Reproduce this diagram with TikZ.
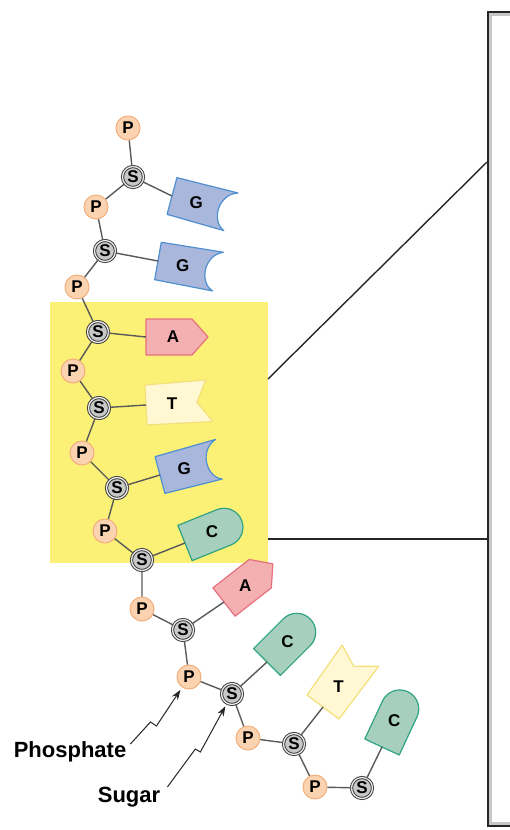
\documentclass[tikz,border=0pt]{standalone}
\usepackage{fontspec}
\setmainfont{Liberation Sans}
\usetikzlibrary{arrows.meta}

\definecolor{highlight}{HTML}{FBF176}
\definecolor{phosfill}{HTML}{FBD3B0}
\definecolor{phosline}{HTML}{F2AE7C}
\definecolor{afill}{HTML}{F4B0B0}
\definecolor{aline}{HTML}{E6707E}
\definecolor{tfill}{HTML}{FFF8D2}
\definecolor{tline}{HTML}{F3E07C}
\definecolor{gfill}{HTML}{A9B7DD}
\definecolor{gline}{HTML}{4F8FD0}
\definecolor{cfill}{HTML}{A6CFBE}
\definecolor{cline}{HTML}{2FA383}

\tikzset{
  phosphate/.style = {circle, draw=phosline, fill=phosfill, line width=1pt,
                      minimum size=24pt, inner sep=0pt,
                      font=\fontsize{17}{17}\selectfont\bfseries},
  sugar/.style     = {circle, draw=black!80, double=black!8, double distance=1.3pt,
                      line width=0.9pt, fill=black!22, minimum size=21pt, inner sep=0pt,
                      font=\fontsize{17}{17}\selectfont\bfseries},
  bond/.style      = {draw=black!65, line width=1.4pt},
  baselbl/.style   = {inner sep=0pt, font=\fontsize{17}{17}\selectfont\bfseries},
  basebox/.style   = {line width=1.2pt, line join=round},
  pointer/.style   = {-{Stealth[length=10pt,width=7pt]}, line width=1pt, black!85,
                      shorten >=3pt},
  tag/.style       = {inner sep=0pt, font=\fontsize{22}{22}\selectfont\bfseries},
  % the four bases, hooked on at (0,0) and pointing along +x
  adenine/.pic     = {\filldraw[basebox, draw=aline, fill=afill]
                        (0,-18) -- (46,-18) -- (62,0) -- (46,18) -- (0,18) -- cycle;
                      \coordinate (-att) at (0,0);
                      \node[baselbl] (-lbl) at (27,0) {A};},
  thymine/.pic     = {\filldraw[basebox, draw=tline, fill=tfill]
                        (0,-20) -- (61,-22) -- (51,0) -- (66,20) -- (0,20) -- cycle;
                      \coordinate (-att) at (0,0);
                      \node[baselbl] (-lbl) at (26,0) {T};},
  guanine/.pic     = {\filldraw[basebox, draw=gline, fill=gfill]
                        (0,-19) -- (63,-20) .. controls (44,-14) and (44,14) .. (59,20)
                        -- (0,19) -- cycle;
                      \coordinate (-att) at (0,0);
                      \node[baselbl] (-lbl) at (25,0) {G};},
  cytosine/.pic    = {\filldraw[basebox, draw=cline, fill=cfill]
                        (0,-19) -- (42,-19) arc(-90:90:19) -- (0,19) -- cycle;
                      \coordinate (-att) at (0,0);
                      \node[baselbl] (-lbl) at (29,0) {C};}
}

\begin{document}
\begin{tikzpicture}[x=1pt, y=-1pt]
  \useasboundingbox (0,0) rectangle (510,830);

  % highlighted stretch of the strand
  \fill[highlight] (50,302) rectangle (268,563);

  % blow-up panel, running off the right edge
  \begin{scope}
    \clip (0,0) rectangle (510,830);
    \draw[line width=2.6pt, black!85] (488,12) rectangle (540,826);
    \draw[line width=2.6pt, black!22] (490.6,14.6) rectangle (540,823.4);
  \end{scope}
  \coordinate (zoomtop) at (268,379);
  \coordinate (zoombot) at (268,539);
  \coordinate (paneltop) at (487,162);
  \coordinate (panelbot) at (487,539);
  \draw[line width=1.4pt, black!85] (zoomtop) -- (paneltop);
  \draw[line width=1.4pt, black!85] (zoombot) -- (panelbot);

  % sugar-phosphate backbone
  \node[phosphate] (p1)  at (128,128) {P};
  \node[sugar]     (s1)  at (133,177) {S};
  \node[phosphate] (p2)  at (96,207)  {P};
  \node[sugar]     (s2)  at (105,251) {S};
  \node[phosphate] (p3)  at (77,287)  {P};
  \node[sugar]     (s3)  at (98,332)  {S};
  \node[phosphate] (p4)  at (73,371)  {P};
  \node[sugar]     (s4)  at (99,408)  {S};
  \node[phosphate] (p5)  at (82,453)  {P};
  \node[sugar]     (s5)  at (117,488) {S};
  \node[phosphate] (p6)  at (105,531) {P};
  \node[sugar]     (s6)  at (142,560) {S};
  \node[phosphate] (p7)  at (142,609) {P};
  \node[sugar]     (s7)  at (183,630) {S};
  \node[phosphate] (p8)  at (189,677) {P};
  \node[sugar]     (s8)  at (232,694) {S};
  \node[phosphate] (p9)  at (248,738) {P};
  \node[sugar]     (s9)  at (294,744) {S};
  \node[phosphate] (p10) at (315,787) {P};
  \node[sugar]     (s10) at (362,788) {S};

  \draw[bond] (p1) -- (s1) -- (p2) -- (s2) -- (p3) -- (s3) -- (p4) -- (s4)
              -- (p5) -- (s5) -- (p6) -- (s6) -- (p7) -- (s7) -- (p8) -- (s8)
              -- (p9) -- (s9) -- (p10) -- (s10);

  % bases
  \pic[rotate=-15] (b1)  at (172,196) {guanine};
  \pic[rotate=-10] (b2)  at (158,261) {guanine};
  \pic             (b3)  at (146,337) {adenine};
  \pic[rotate=3]   (b4)  at (146,405) {thymine};
  \pic[rotate=15]  (b5)  at (160,475) {guanine};
  \pic[rotate=22]  (b6)  at (185,543) {cytosine};
  \pic[rotate=38]  (b7)  at (224,602) {adenine};
  \pic[rotate=45]  (b8)  at (267,662) {cytosine};
  \pic[rotate=53]  (b9)  at (323,707) {thymine};
  \pic[rotate=65]  (b10) at (382,747) {cytosine};

  \draw[bond] (s1) -- (b1-att);
  \draw[bond] (s2) -- (b2-att);
  \draw[bond] (s3) -- (b3-att);
  \draw[bond] (s4) -- (b4-att);
  \draw[bond] (s5) -- (b5-att);
  \draw[bond] (s6) -- (b6-att);
  \draw[bond] (s7) -- (b7-att);
  \draw[bond] (s8) -- (b8-att);
  \draw[bond] (s9) -- (b9-att);
  \draw[bond] (s10) -- (b10-att);

  % labels
  \node[tag] (phoslabel)  at (70,752)  {Phosphate};
  \node[tag] (sugarlabel) at (129,797) {Sugar};
  \draw[pointer] (phoslabel.east) ++(4,-8) -- ++(20,-22) -- ++(6,4) -- (p8);
  \draw[pointer] (sugarlabel.east) ++(7,-10) -- ++(28,-38) -- ++(5,3) -- (s8);
\end{tikzpicture}
\end{document}
